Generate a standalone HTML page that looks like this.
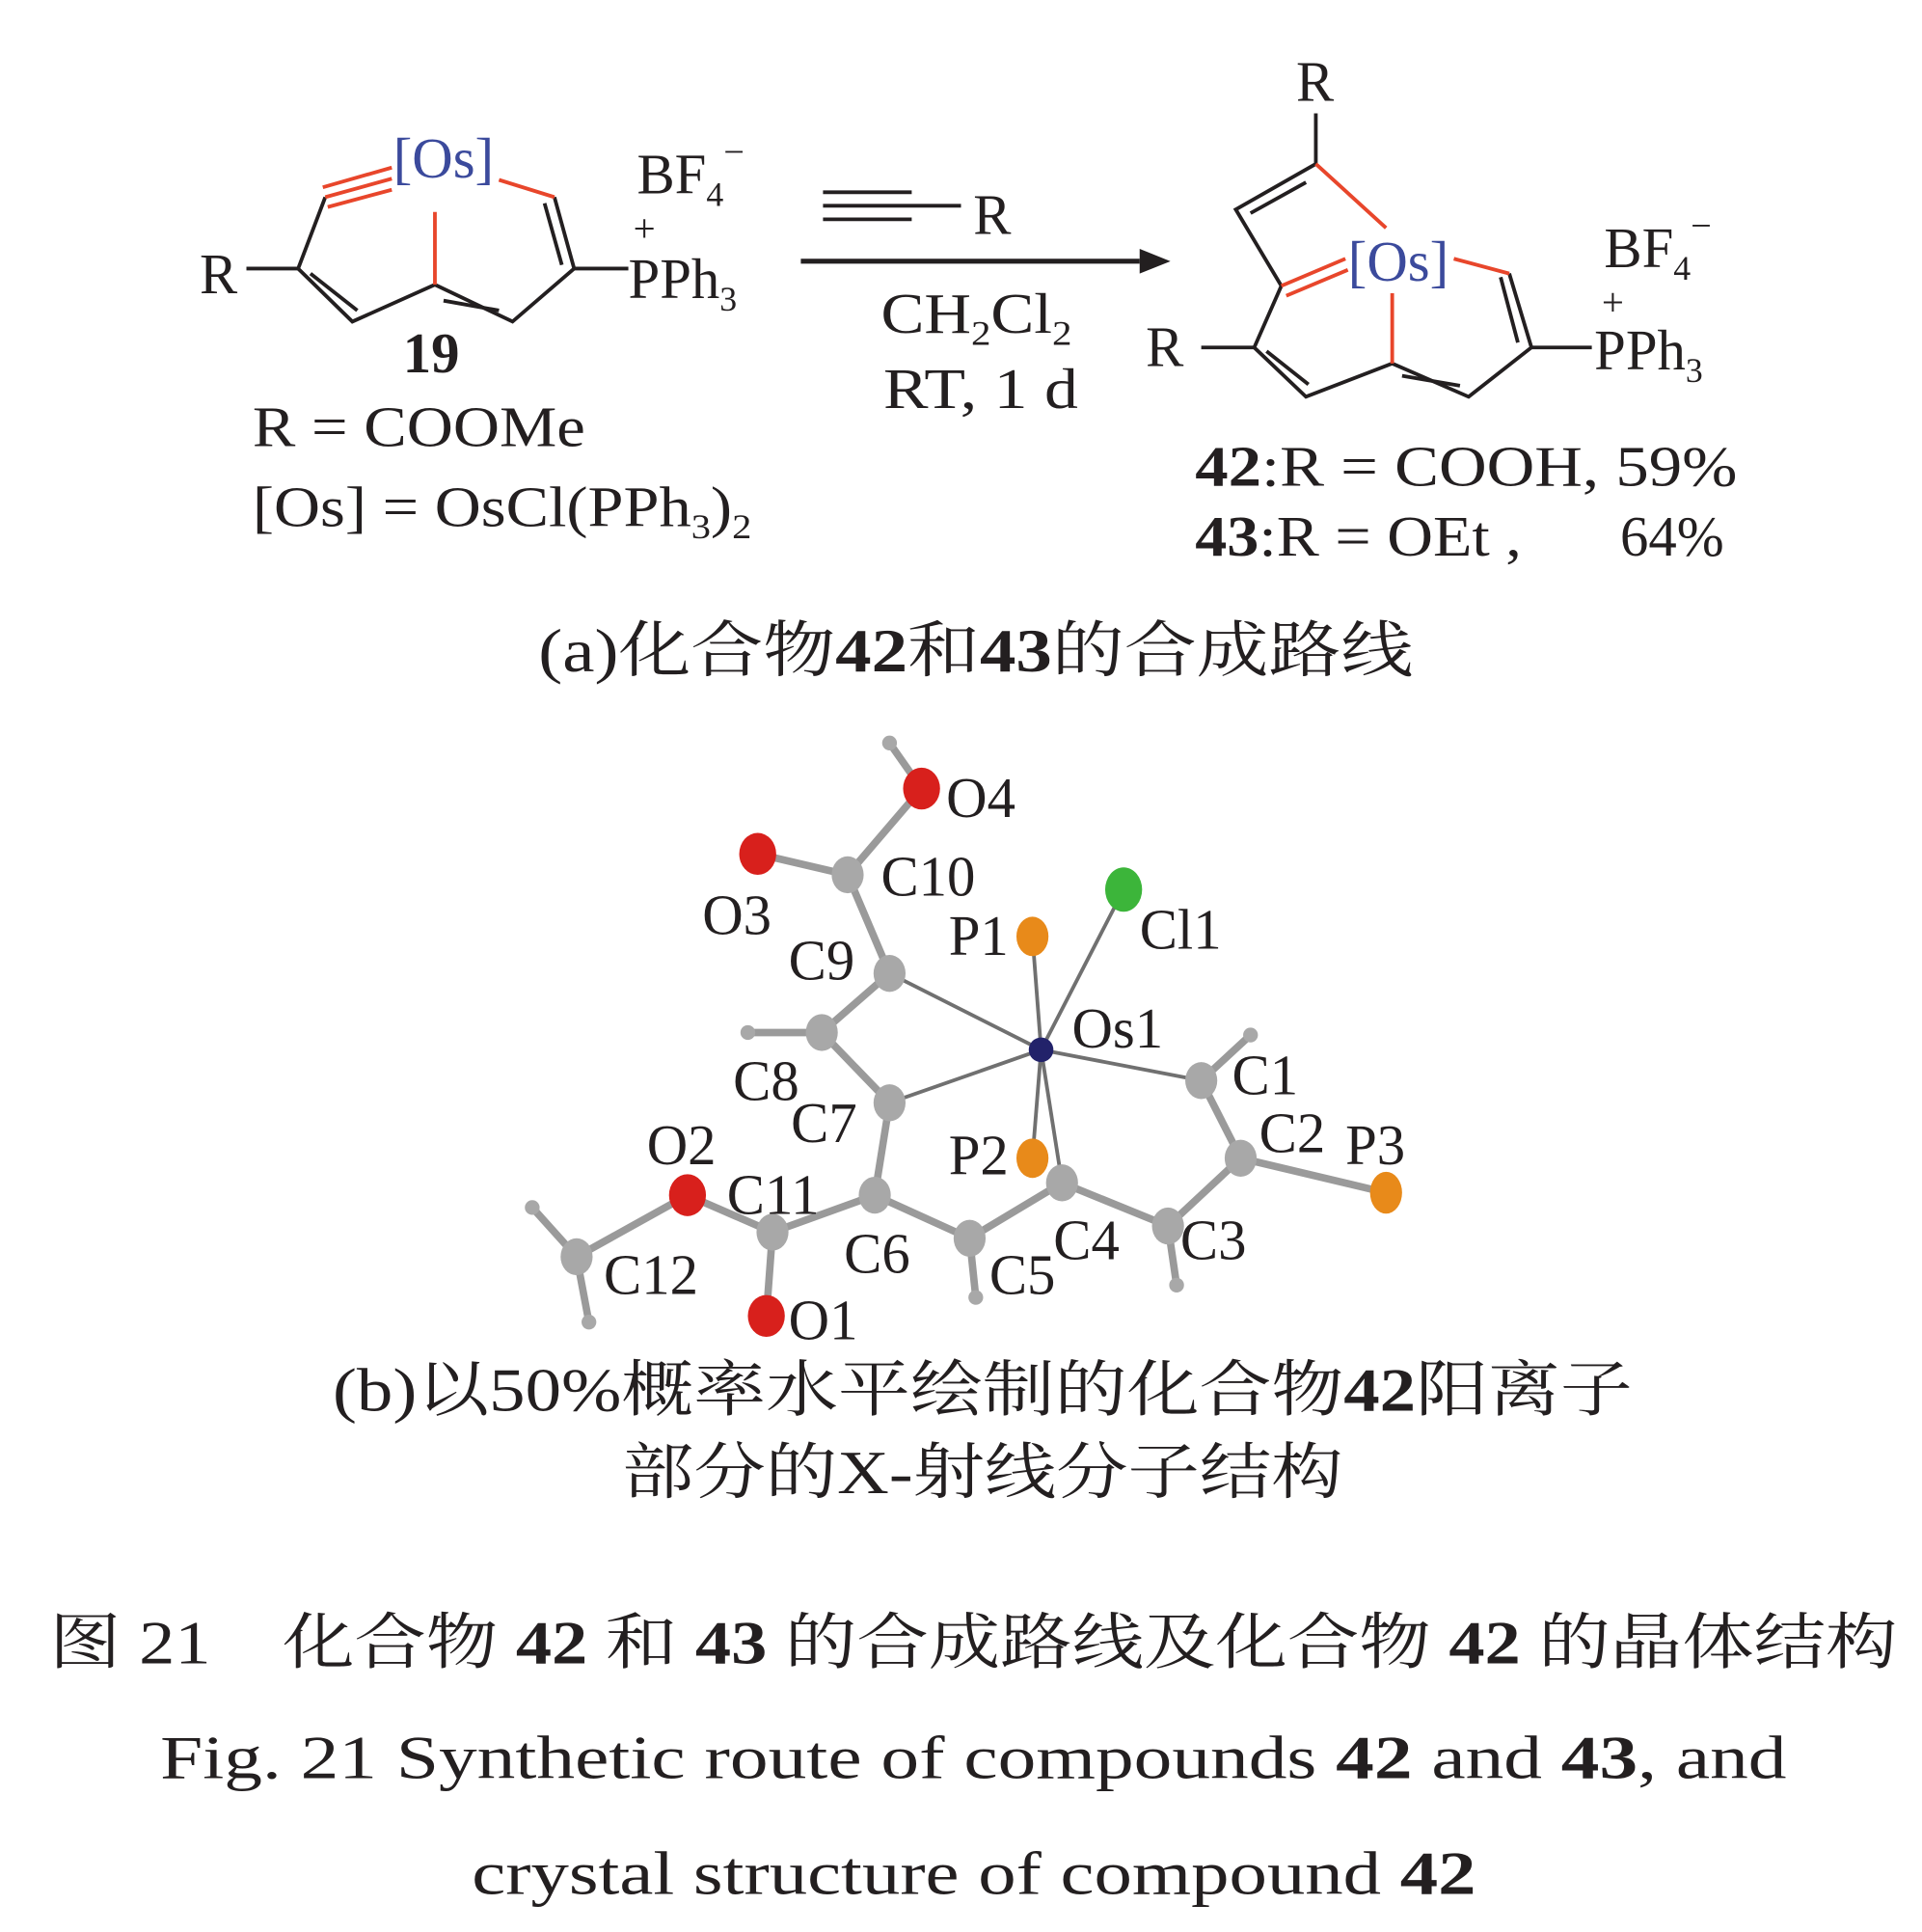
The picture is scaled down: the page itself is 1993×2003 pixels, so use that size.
<!DOCTYPE html>
<html><head><meta charset="utf-8"><style>
html,body{margin:0;padding:0;background:#fff;}
svg{display:block;}
text{font-family:"Liberation Serif","Noto Serif CJK SC",serif;fill:#231f20;}
.b{font-weight:bold;}
</style></head><body>
<svg width="1993" height="2003" viewBox="0 0 1560 1568" preserveAspectRatio="none" xmlns="http://www.w3.org/2000/svg">
<rect width="1560" height="1568" fill="#fff"/>
<g stroke="#231f20" stroke-width="3" fill="none">
<line x1="200" y1="218" x2="242" y2="218"/>
<polyline points="264,160 242,218 286,261 353,231 416,261 466,218 450,160"/>
<line x1="252" y1="222" x2="290" y2="252"/>
<line x1="360" y1="244" x2="405" y2="252"/>
<line x1="456" y1="215" x2="442" y2="165"/>
<line x1="466" y1="218" x2="510" y2="218"/>
<line x1="650" y1="212" x2="925" y2="212" stroke-width="4"/>
<line x1="668" y1="156" x2="740" y2="156"/>
<line x1="668" y1="167" x2="780" y2="167"/>
<line x1="668" y1="178" x2="740" y2="178"/>
<line x1="1068" y1="92" x2="1068" y2="133"/>
<polyline points="1068,133 1003,170 1040,232 1018,282 1060,322 1130,295 1192,322 1243,282 1225,222"/>
<line x1="1060" y1="148" x2="1015" y2="173"/>
<line x1="1028" y1="285" x2="1062" y2="312"/>
<line x1="1138" y1="305" x2="1185" y2="313"/>
<line x1="1232" y1="278" x2="1218" y2="225"/>
<line x1="975" y1="282" x2="1018" y2="282"/>
<line x1="1243" y1="282" x2="1292" y2="282"/>
</g>
<polygon points="925,202 950,212 925,222" fill="#231f20"/>
<g stroke="#e8462b" stroke-width="3" fill="none">
<line x1="262" y1="152" x2="318" y2="136"/>
<line x1="264" y1="160" x2="318" y2="145"/>
<line x1="266" y1="168" x2="318" y2="154"/>
<line x1="405" y1="146" x2="450" y2="160"/>
<line x1="353" y1="231" x2="353" y2="172"/>
<line x1="1068" y1="133" x2="1125" y2="185"/>
<line x1="1040" y1="232" x2="1092" y2="210"/>
<line x1="1044" y1="240" x2="1094" y2="219"/>
<line x1="1180" y1="210" x2="1225" y2="222"/>
<line x1="1130" y1="295" x2="1130" y2="238"/>
</g>
<g font-size="46">
<text x="360" y="144" text-anchor="middle" style="fill:#3b4a9c">[Os]</text>
<text x="162" y="238">R</text>
<text x="517" y="157">BF<tspan font-size="28" dy="10">4</tspan><tspan font-size="30" dy="-34">−</tspan></text>
<text x="514" y="196" font-size="32">+</text>
<text x="510" y="242">PPh<tspan font-size="28" dy="10">3</tspan></text>
<text x="350" y="302" text-anchor="middle" class="b">19</text>
<text x="205" y="362" textLength="270" lengthAdjust="spacingAndGlyphs">R = COOMe</text>
<text x="205" y="427" textLength="405" lengthAdjust="spacingAndGlyphs">[Os] = OsCl(PPh<tspan font-size="28" dy="10">3</tspan><tspan dy="-10">)</tspan><tspan font-size="28" dy="10">2</tspan></text>
<text x="790" y="190">R</text>
<text x="715" y="270" textLength="155" lengthAdjust="spacingAndGlyphs">CH<tspan font-size="28" dy="10">2</tspan><tspan dy="-10">Cl</tspan><tspan font-size="28" dy="10">2</tspan></text>
<text x="717" y="331" textLength="158" lengthAdjust="spacingAndGlyphs">RT, 1 d</text>
<text x="1052" y="82">R</text>
<text x="1135" y="228" text-anchor="middle" style="fill:#3b4a9c">[Os]</text>
<text x="930" y="297">R</text>
<text x="1302" y="217">BF<tspan font-size="28" dy="10">4</tspan><tspan font-size="30" dy="-34">−</tspan></text>
<text x="1300" y="256" font-size="32">+</text>
<text x="1294" y="300">PPh<tspan font-size="28" dy="10">3</tspan></text>
<text x="970" y="394" textLength="440" lengthAdjust="spacingAndGlyphs"><tspan class="b">42</tspan>:R = COOH,  59%</text>
<text x="970" y="451" textLength="265" lengthAdjust="spacingAndGlyphs"><tspan class="b">43</tspan>:R = OEt ,</text>
<text x="1315" y="451">64%</text>
</g>
<text x="437" y="545" font-size="50" textLength="710" lengthAdjust="spacingAndGlyphs">(a)化合物<tspan class="b">42</tspan>和<tspan class="b">43</tspan>的合成路线</text>
<g stroke="#9a9a9a" stroke-width="6" stroke-linecap="round">
<line x1="722" y1="603" x2="748" y2="640"/>
<line x1="748" y1="640" x2="688" y2="710"/>
<line x1="615" y1="693" x2="688" y2="710"/>
<line x1="688" y1="710" x2="722" y2="790"/>
<line x1="722" y1="790" x2="667" y2="838"/>
<line x1="607" y1="838" x2="667" y2="838"/>
<line x1="667" y1="838" x2="722" y2="895"/>
<line x1="722" y1="895" x2="710" y2="970"/>
<line x1="710" y1="970" x2="627" y2="1000"/>
<line x1="710" y1="970" x2="787" y2="1005"/>
<line x1="787" y1="1005" x2="862" y2="960"/>
<line x1="787" y1="1005" x2="792" y2="1053"/>
<line x1="862" y1="960" x2="948" y2="995"/>
<line x1="948" y1="995" x2="955" y2="1043"/>
<line x1="948" y1="995" x2="1007" y2="940"/>
<line x1="1007" y1="940" x2="1125" y2="968"/>
<line x1="1007" y1="940" x2="975" y2="877"/>
<line x1="975" y1="877" x2="1015" y2="840"/>
<line x1="627" y1="1000" x2="622" y2="1068"/>
<line x1="627" y1="1000" x2="558" y2="970"/>
<line x1="558" y1="970" x2="468" y2="1020"/>
<line x1="468" y1="1020" x2="432" y2="980"/>
<line x1="468" y1="1020" x2="478" y2="1073"/>
</g>
<g stroke="#707070" stroke-width="3">
<line x1="845" y1="852" x2="722" y2="790"/>
<line x1="845" y1="852" x2="722" y2="895"/>
<line x1="845" y1="852" x2="975" y2="877"/>
<line x1="845" y1="852" x2="838" y2="760"/>
<line x1="845" y1="852" x2="912" y2="722"/>
<line x1="845" y1="852" x2="838" y2="940"/>
<line x1="845" y1="852" x2="862" y2="960"/>
</g>
<g fill="#a8a8a8">
<circle cx="722" cy="603" r="6"/><circle cx="607" cy="838" r="6"/><circle cx="1015" cy="840" r="6"/>
<circle cx="955" cy="1043" r="6"/><circle cx="792" cy="1053" r="6"/><circle cx="432" cy="980" r="6"/><circle cx="478" cy="1073" r="6"/>
<ellipse cx="688" cy="710" rx="13" ry="15"/><ellipse cx="722" cy="790" rx="13" ry="15"/><ellipse cx="667" cy="838" rx="13" ry="15"/>
<ellipse cx="722" cy="895" rx="13" ry="15"/><ellipse cx="710" cy="970" rx="13" ry="15"/><ellipse cx="787" cy="1005" rx="13" ry="15"/>
<ellipse cx="862" cy="960" rx="13" ry="15"/><ellipse cx="948" cy="995" rx="13" ry="15"/><ellipse cx="1007" cy="940" rx="13" ry="15"/>
<ellipse cx="975" cy="877" rx="13" ry="15"/><ellipse cx="627" cy="1000" rx="13" ry="15"/><ellipse cx="468" cy="1020" rx="13" ry="15"/>
</g>
<g fill="#d8201c">
<ellipse cx="748" cy="640" rx="15" ry="17"/><ellipse cx="615" cy="693" rx="15" ry="17"/>
<ellipse cx="558" cy="970" rx="15" ry="17"/><ellipse cx="622" cy="1068" rx="15" ry="17"/>
</g>
<g fill="#e88a1a">
<ellipse cx="838" cy="760" rx="13" ry="16"/><ellipse cx="838" cy="940" rx="13" ry="16"/><ellipse cx="1125" cy="968" rx="13" ry="17"/>
</g>
<ellipse cx="912" cy="722" rx="15" ry="18" fill="#3cb53a"/>
<circle cx="845" cy="852" r="10" fill="#22226a"/>
<g font-size="46">
<text x="768" y="663">O4</text>
<text x="715" y="727">C10</text>
<text x="570" y="758">O3</text>
<text x="640" y="795">C9</text>
<text x="770" y="775">P1</text>
<text x="925" y="770">Cl1</text>
<text x="870" y="850">Os1</text>
<text x="1000" y="888">C1</text>
<text x="595" y="893">C8</text>
<text x="642" y="927">C7</text>
<text x="1022" y="935">C2</text>
<text x="1092" y="945">P3</text>
<text x="770" y="953">P2</text>
<text x="525" y="945">O2</text>
<text x="590" y="985">C11</text>
<text x="685" y="1033">C6</text>
<text x="855" y="1022">C4</text>
<text x="958" y="1022">C3</text>
<text x="490" y="1050">C12</text>
<text x="803" y="1050">C5</text>
<text x="640" y="1087">O1</text>
</g>
<g font-size="50">
<text x="270" y="1145" textLength="1055" lengthAdjust="spacingAndGlyphs">(b)以50%概率水平绘制的化合物<tspan class="b">42</tspan>阳离子</text>
<text x="505" y="1212" textLength="585" lengthAdjust="spacingAndGlyphs">部分的X-射线分子结构</text>
<text x="40" y="1350" textLength="1500" lengthAdjust="spacingAndGlyphs">图 21　化合物 <tspan class="b">42</tspan> 和 <tspan class="b">43</tspan> 的合成路线及化合物 <tspan class="b">42</tspan> 的晶体结构</text>
<text x="130" y="1443" textLength="1320" lengthAdjust="spacingAndGlyphs">Fig. 21   Synthetic route of compounds <tspan class="b">42</tspan> and <tspan class="b">43</tspan>, and</text>
<text x="383" y="1537" textLength="815" lengthAdjust="spacingAndGlyphs">crystal structure of compound <tspan class="b">42</tspan></text>
</g>
</svg>
</body></html>
